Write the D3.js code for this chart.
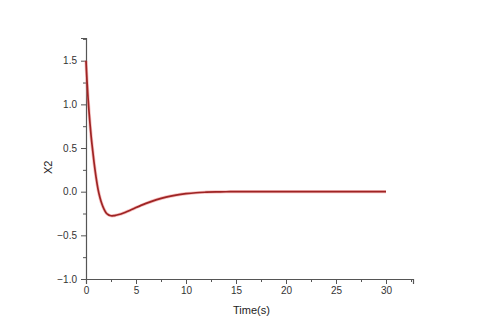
<!DOCTYPE html>
<html>
<head>
<meta charset="utf-8">
<script src="https://cdn.jsdelivr.net/npm/d3@7"></script>
<style>
  body { margin: 0; background: #fff; }
  svg { display: block; }
</style>
</head>
<body>
<div id="svg-container"></div>
<script>
const width = 480, height = 335,
      margin = {top: 38, right: 67, bottom: 56, left: 86};

// time (s) and X2
const time = [0, 0.05, 0.1, 0.2, 0.3, 0.4, 0.5, 0.6, 0.8, 1.0, 1.2, 1.4, 1.6, 1.8, 2.0, 2.2, 2.4, 2.6, 2.8,
              3.0, 3.5, 4.0, 4.5, 5.0, 5.5, 6.0, 7.0, 8.0, 9.0, 10, 11, 12, 13, 14, 15, 20, 25, 30];
const x2 = [1.50, 1.38, 1.27, 1.08, 0.92, 0.78, 0.65, 0.54, 0.34, 0.17, 0.03, -0.07, -0.145, -0.2, -0.24, -0.262, -0.273, -0.276, -0.275,
            -0.27, -0.255, -0.233, -0.208, -0.182, -0.157, -0.134, -0.094, -0.062, -0.039, -0.023, -0.012, -0.006, -0.002, -0.001, 0, 0, 0, 0];

const xTicks = [0, 5, 10, 15, 20, 25, 30],
      xMinor = [2.5, 7.5, 12.5, 17.5, 22.5, 27.5, 32.5],
      yTicks = [-1.0, -0.5, 0.0, 0.5, 1.0, 1.5],
      yMinor = [-0.75, -0.25, 0.25, 0.75, 1.25, 1.75];

const points = time.map(function(t, i) { return {t: t, v: x2[i]}; });

const svg = d3.select("#svg-container").append("svg")
    .attr("width", width)
    .attr("height", height);

const x = d3.scaleLinear().domain([0, 32.7]).range([margin.left, width - margin.right]);
const y = d3.scaleLinear().domain([-1.0, 1.76]).range([height - margin.bottom, margin.top]);

const axisColor = "#555",
      font = "Arial, 'Liberation Sans', sans-serif";

// x axis
const gx = svg.append("g")
    .attr("transform", `translate(0,${height - margin.bottom})`)
    .call(d3.axisBottom(x).tickValues(xTicks).tickFormat(d3.format("d")).tickSize(5).tickPadding(3));
gx.append("g")
    .call(d3.axisBottom(x).tickValues(xMinor).tickFormat("").tickSize(3))
    .select(".domain").remove();

// y axis
const gy = svg.append("g")
    .attr("transform", `translate(${margin.left},0)`)
    .call(d3.axisLeft(y).tickValues(yTicks).tickFormat(d3.format(".1f")).tickSize(5).tickPadding(4));
gy.append("g")
    .call(d3.axisLeft(y).tickValues(yMinor).tickFormat("").tickSize(3))
    .select(".domain").remove();

svg.selectAll(".domain").attr("stroke", axisColor).attr("stroke-width", 1.2);
svg.selectAll(".tick line").attr("stroke", axisColor);
svg.selectAll(".tick text")
    .attr("fill", "#333")
    .attr("font-family", font)
    .attr("font-size", 10);

// axis titles
svg.append("text")
    .attr("x", (x(0) + x(32.7)) / 2 + 2)
    .attr("y", 314)
    .attr("text-anchor", "middle")
    .attr("font-family", font)
    .attr("font-size", 11)
    .attr("fill", "#222")
    .text("Time(s)");

svg.append("text")
    .attr("transform", `translate(52,${y(0.28)}) rotate(-90)`)
    .attr("text-anchor", "middle")
    .attr("font-family", font)
    .attr("font-size", 11)
    .attr("fill", "#222")
    .text("X2");

// curve
const line = d3.line()
    .curve(d3.curveMonotoneX)
    .x(function(d) { return x(d.t); })
    .y(function(d) { return y(d.v); });

svg.append("path")
    .datum(points)
    .attr("fill", "none")
    .attr("stroke", "#f08080")
    .attr("stroke-opacity", 0.5)
    .attr("stroke-width", 3.2)
    .attr("d", line);

svg.append("path")
    .datum(points)
    .attr("fill", "none")
    .attr("stroke", "#9e2424")
    .attr("stroke-width", 1.7)
    .attr("d", line);
</script>
</body>
</html>
